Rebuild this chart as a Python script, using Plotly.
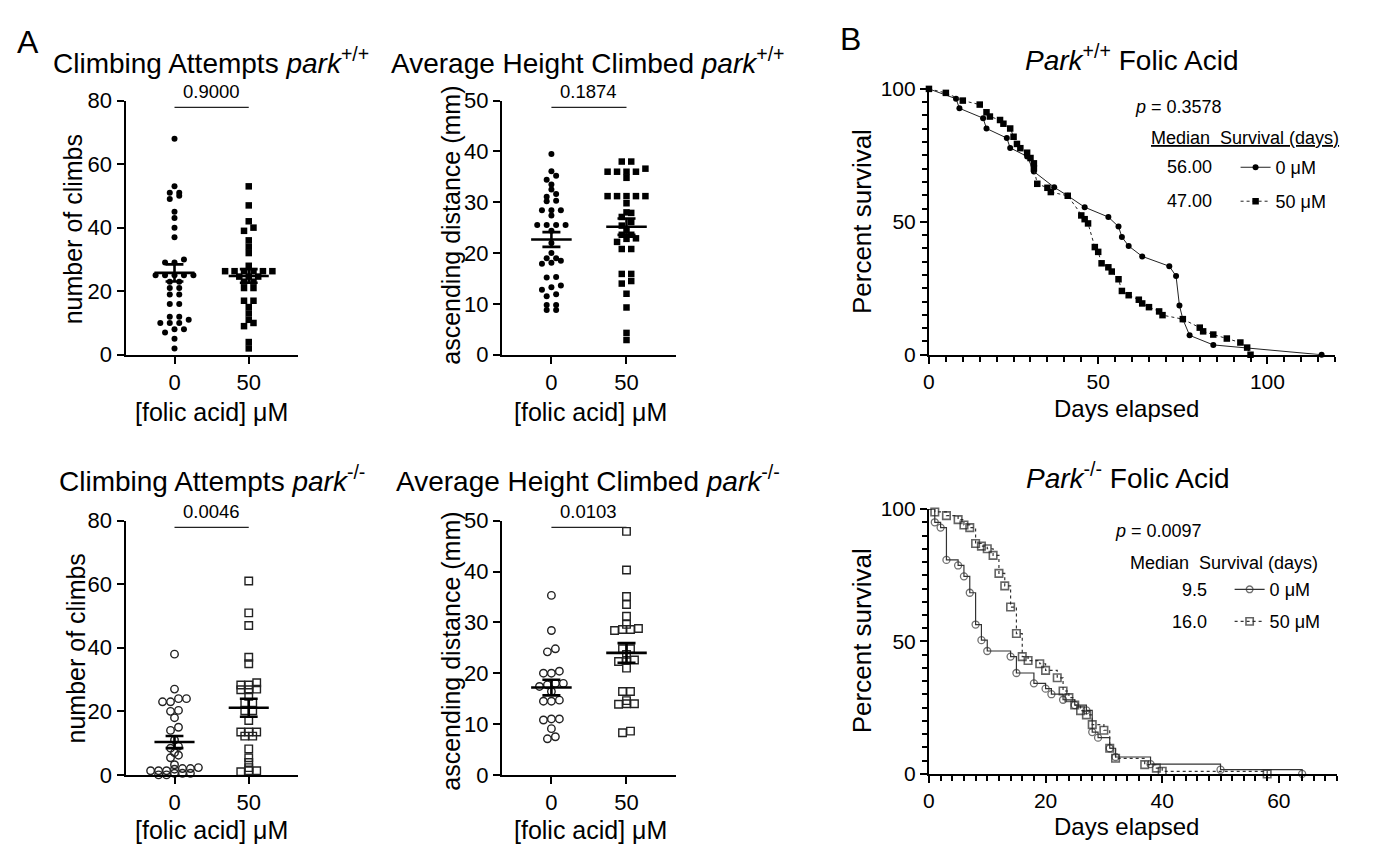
import numpy as np
import plotly.graph_objects as go

# page has an 8px body margin: make the figure fit inside the window
W, H = 1361, 842
OFF = 8
FONT = "Liberation Sans, Arial, sans-serif"

# ---------------- data ----------------
dose_labels = ["0", "50"]

climb_wt_0 = [68, 53, 51, 51, 50, 49, 45, 43, 40, 37, 30, 29, 29, 25, 25, 25, 25, 25, 23, 23,
              21, 21, 19, 19, 16, 16, 12, 12, 11, 10, 10, 10, 8, 8, 7, 5, 2]
climb_wt_50 = [53, 47, 42, 40, 39, 36, 34, 32, 28, 26.3, 26.3, 26.3, 26.3, 26.3, 26.3, 24.6, 24.6,
               24.6, 23, 23, 21, 21, 17, 17, 15, 13, 11, 10, 9, 4, 2]
height_wt_0 = [39.5, 36.1, 35.2, 34.4, 33.5, 32.5, 31.6, 31.1, 30.3, 30.2, 28.4, 28.4, 28.4, 27.4,
               25.5, 25.5, 25.5, 25.5, 24.4, 22.0, 20.0, 19.0, 19.0, 18.1, 17.9, 18.5, 15.2, 15.3,
               13.3, 12.8, 13.6, 11.5, 11.9, 8.8, 9.8, 8.8, 9.8]
height_wt_50 = [38.0, 38.0, 36.6, 36.0, 36.0, 36.0, 36.0, 34.8, 31.2, 31.2, 31.2, 31.2, 31.2, 29.8,
                28.0, 27.9, 27.1, 26.1, 25.4, 24.5, 23.6, 23.6, 22.9, 22.8, 22.2, 20.8, 20.8, 15.9,
                15.9, 14.0, 14.5, 12.0, 9.3, 4.3, 2.9]
climb_ko_0 = [38, 27, 24, 23, 23, 24, 20.3, 20, 18, 15, 14, 11, 9, 8.4, 7, 6.2, 5.4, 3.2, 2.3, 1.8,
              2, 2, 1.3, 1.3, 1.3, 0.5, 0.5, 0.5, 0, 0]
climb_ko_50 = [61, 51, 47, 37, 35, 29, 27, 28.3, 28.3, 26.8, 26.8, 24.7, 22.7, 22.7, 20.2, 20.2, 17.1,
               13.5, 13.5, 12.2, 12.2, 13.5, 8.2, 5.4, 3.9, 2.3, 1.3, 1.3, 1.0]
height_ko_0 = [35.3, 28.4, 24.8, 24.2, 20.0, 20.4, 20.0, 18.0, 17.4, 17.7, 18.0, 16.4, 14.5, 14.7,
               14.5, 11.0, 10.8, 11.0, 9.1, 7.1, 7.5]
height_ko_50 = [47.9, 40.3, 35.1, 33.5, 31.2, 29.6, 28.6, 28.4, 28.6, 28.8, 24.8, 24.8, 23.7, 22.3,
                22.5, 22.6, 21.0, 16.4, 16.4, 14.0, 14.6, 13.9, 14.0, 8.3, 8.6]
p_values = ["0.9000", "0.1874", "0.0046", "0.0103"]

surv_wt_0_days = [0, 8, 9, 16, 17, 23, 24, 29, 31, 37, 41, 46, 53, 56, 57, 59, 63, 71, 73, 74, 75, 77, 84, 116]
surv_wt_0_pct = [100, 96.3, 92.7, 89.0, 85.1, 81.5, 77.8, 74.6, 68.9, 63.0, 59.8, 55.5, 51.8, 48.2, 44.3,
                 40.9, 37.0, 33.3, 29.6, 18.5, 13.4, 7.3, 3.7, 0]
surv_wt_50_days = [0, 5, 10, 15, 17, 18, 21, 22, 24, 25, 26, 27, 29, 30, 31, 31, 32, 35, 36, 41, 45, 46,
                   47, 49, 50, 51, 53, 54, 56, 57, 59, 62, 63, 65, 68, 69, 75, 80, 81, 84, 88, 92, 94, 95]
surv_wt_50_pct = [100, 98.5, 95.6, 94.1, 91.2, 89.6, 88.3, 86.9, 85.1, 82.0, 79.3, 77.7, 76.0, 74.0, 72.0,
                  70.1, 64.3, 62.8, 61.2, 59.8, 52.4, 51.0, 49.4, 40.5, 38.7, 34.4, 32.9, 31.3, 28.4,
                  24.0, 22.4, 20.7, 19.3, 17.9, 16.3, 14.9, 13.4, 10.2, 8.8, 7.6, 6.1, 4.6, 2.7, 0]
surv_ko_0_days = [0, 1, 2, 3, 5, 6, 7, 8, 9, 10, 14, 15, 18, 20, 21, 23, 25, 27, 28, 29, 31, 32, 38, 50, 64]
surv_ko_0_pct = [100, 95, 93, 80.8, 78.7, 74.6, 68.4, 56.4, 50.5, 46.4, 44.3, 38.1, 34.2, 32.2, 30.1,
                 28, 26, 24, 15.8, 13.7, 9.7, 6.4, 3.7, 1.6, 0]
surv_ko_50_days = [0, 1, 3, 5, 6, 7, 8, 9, 10, 11, 12, 13, 14, 15, 16, 17, 19, 20, 22, 23, 24, 25, 26,
                   27, 28, 30, 31, 32, 37, 39, 40, 58]
surv_ko_50_pct = [100, 98.9, 97.5, 96, 94, 93, 87, 86, 85, 82.5, 75.7, 71, 63, 53, 44.3, 42.8, 41.6,
                  39.1, 36.3, 31.3, 28.8, 26, 23.9, 22.3, 18.6, 16.5, 9.7, 5.9, 3.5, 2.2, 1, 0]
p_surv = ["0.3578", "0.0097"]
median_wt = ["56.00", "47.00"]
median_ko = ["9.5", "16.0"]
group_names = ["0 μM", "50 μM"]


def pxx(x):
    return (x - OFF) / W


def pxy(y):
    return 1 - (y - OFF) / H


fig = go.Figure()
layout = dict(width=W, height=H, margin=dict(l=0, r=0, t=0, b=0), autosize=False,
              paper_bgcolor="white", plot_bgcolor="white",
              font=dict(family=FONT, color="black"), showlegend=True)
annotations = []


def ann(text, x, y, size, xanchor="center", yanchor="middle", angle=0, **kw):
    d = dict(text=text, x=pxx(x), y=pxy(y), xref="paper", yref="paper", showarrow=False,
             font=dict(size=size, family=FONT, color="black"), xanchor=xanchor, yanchor=yanchor,
             textangle=angle)
    d.update(kw)
    annotations.append(d)


def swarm(vals, ppu_y, ppu_x, step_px, row_px):
    vals = np.asarray(vals, float)
    order = np.argsort(vals, kind="stable")
    offs = np.zeros(len(vals))
    rows, cur = [], [order[0]]
    for i in order[1:]:
        if (vals[i] - vals[cur[0]]) * ppu_y < row_px:
            cur.append(i)
        else:
            rows.append(cur)
            cur = [i]
    rows.append(cur)
    for r in rows:
        n = len(r)
        for j, idx in enumerate(r):
            offs[idx] = (j - (n - 1) / 2) * step_px / ppu_x
    return offs


axline = dict(showline=True, linecolor="black", linewidth=2, ticks="outside", tickcolor="black",
              tickwidth=2, showgrid=False, zeroline=False)

scatter_panels = [
    # (suffix, xpx, ypx, ymax, dtick, data0, data50, filled, pval)
    ("", (120, 293), (91, 353), 80, 20, climb_wt_0, climb_wt_50, True, p_values[0]),
    ("2", (498, 673), (91, 353), 50, 10, height_wt_0, height_wt_50, True, p_values[1]),
    ("3", (120, 293), (524, 786), 80, 20, climb_ko_0, climb_ko_50, False, p_values[2]),
    ("4", (498, 673), (524, 786), 50, 10, height_ko_0, height_ko_50, False, p_values[3]),
]

XR = (-0.66, 1.66)
for suf, (x0, x1), (y0, y1), ymax, dt, d0, d50, filled, pv in scatter_panels:
    layout["xaxis" + suf] = dict(domain=[pxx(x0), pxx(x1)], range=list(XR), anchor="y" + suf,
                                 tickvals=[0, 1], ticktext=dose_labels, ticklen=7,
                                 tickfont=dict(size=22, family=FONT, color="black"), **axline)
    layout["yaxis" + suf] = dict(domain=[pxy(y1), pxy(y0)], range=[0, ymax], anchor="x" + suf,
                                 dtick=dt, ticklen=7,
                                 tickfont=dict(size=22, family=FONT, color="black"), **axline)
    ppu_x = (x1 - x0) / (XR[1] - XR[0])
    ppu_y = (y1 - y0) / ymax
    for ci, (vals, sym) in enumerate([(d0, "circle"), (d50, "square")]):
        if filled:
            offs = swarm(vals, ppu_y, ppu_x, 9.5, 4.5)
            mk = dict(symbol=sym, size=6 if sym == "circle" else 6.5, color="black")
        else:
            offs = swarm(vals, ppu_y, ppu_x, 8.0, 3.6)
            mk = dict(symbol=sym + "-open", size=7.5, color="#222",
                      line=dict(width=1.4, color="#222"))
        fig.add_trace(go.Scatter(x=ci + offs, y=vals, mode="markers", marker=mk,
                                 xaxis="x" + suf, yaxis="y" + suf, showlegend=False,
                                 cliponaxis=False, hoverinfo="skip"))
        arr = np.asarray(vals, float)
        m = arr.mean()
        sem = arr.std(ddof=1) / np.sqrt(len(arr))
        hw, cw = 0.27, 0.12
        xs = [ci - hw, ci + hw, None, ci, ci, None, ci - cw, ci + cw, None, ci - cw, ci + cw]
        ys = [m, m, None, m - sem, m + sem, None, m - sem, m - sem, None, m + sem, m + sem]
        fig.add_trace(go.Scatter(x=xs, y=ys, mode="lines", line=dict(color="black", width=2.6),
                                 xaxis="x" + suf, yaxis="y" + suf, showlegend=False,
                                 hoverinfo="skip"))
    # significance bar, 7 px under the top of the axis; p text 9 px above it
    bar_v = ymax - 7 / ppu_y
    fig.add_trace(go.Scatter(x=[0, 1], y=[bar_v, bar_v], mode="lines",
                             line=dict(color="#222", width=1.2), xaxis="x" + suf, yaxis="y" + suf,
                             showlegend=False, hoverinfo="skip"))
    ann(pv, x0 + (0.5 - XR[0]) * ppu_x, y0 - 9, 18.5)

# ---------------- survival panels ----------------
surv_panels = [
    ("5", (927, 1335), (79, 353), 120, 50, 5),
    ("6", (927, 1337), (512, 785), 70, 20, 2),
]
for suf, (x0, x1), (y0, y1), xmax, xdt, xminor in surv_panels:
    layout["xaxis" + suf] = dict(domain=[pxx(x0), pxx(x1)], range=[0, xmax], anchor="y" + suf,
                                 dtick=xdt, ticklen=7,
                                 minor=dict(dtick=xminor, ticklen=5, tickwidth=2, tickcolor="black",
                                            ticks="outside", showgrid=False),
                                 tickfont=dict(size=21, family=FONT, color="black"), **axline)
    layout["yaxis" + suf] = dict(domain=[pxy(y1), pxy(y0)], range=[0, 100], anchor="x" + suf,
                                 dtick=50, ticklen=7,
                                 minor=dict(dtick=5, ticklen=5, tickwidth=2, tickcolor="black",
                                            ticks="outside", showgrid=False),
                                 tickfont=dict(size=21, family=FONT, color="black"), **axline)

# top: connected points
fig.add_trace(go.Scatter(x=surv_wt_0_days, y=surv_wt_0_pct, mode="lines+markers", name=group_names[0],
                         line=dict(color="#222", width=1),
                         marker=dict(symbol="circle", size=6, color="black"),
                         xaxis="x5", yaxis="y5", legend="legend",
                         cliponaxis=False, hoverinfo="skip"))
fig.add_trace(go.Scatter(x=surv_wt_50_days, y=surv_wt_50_pct, mode="lines+markers", name=group_names[1],
                         line=dict(color="#222", width=1, dash="dot"),
                         marker=dict(symbol="square", size=6.5, color="black"),
                         xaxis="x5", yaxis="y5", legend="legend2",
                         cliponaxis=False, hoverinfo="skip"))
# bottom: step curves
sizes0 = [0] + [7] * (len(surv_ko_0_days) - 1)
sizes50 = [0] + [7.5] * (len(surv_ko_50_days) - 1)
fig.add_trace(go.Scatter(x=surv_ko_0_days, y=surv_ko_0_pct, mode="lines+markers", name=group_names[0],
                         line=dict(color="#333", width=1.2, shape="hv"),
                         marker=dict(symbol="circle-open", size=sizes0, color="#333",
                                     line=dict(width=1.3)),
                         xaxis="x6", yaxis="y6", legend="legend3",
                         cliponaxis=False, hoverinfo="skip"))
fig.add_trace(go.Scatter(x=surv_ko_50_days, y=surv_ko_50_pct, mode="lines+markers", name=group_names[1],
                         line=dict(color="#333", width=1.2, shape="hv", dash="dot"),
                         marker=dict(symbol="square-open", size=sizes50, color="#222",
                                     line=dict(width=1.6)),
                         xaxis="x6", yaxis="y6", legend="legend4",
                         cliponaxis=False, hoverinfo="skip"))

leg_common = dict(xanchor="left", yanchor="top", bgcolor="rgba(0,0,0,0)", borderwidth=0,
                  font=dict(size=18, family=FONT, color="black"), itemclick=False)
# legend rows centred on the median-survival rows (item centre ~19 px below legend top)
layout["legend"] = dict(x=pxx(1235), y=pxy(160 - 19), **leg_common)
layout["legend2"] = dict(x=pxx(1235), y=pxy(195 - 19), **leg_common)
layout["legend3"] = dict(x=pxx(1229), y=pxy(595 - 19), **leg_common)
layout["legend4"] = dict(x=pxx(1229), y=pxy(628 - 19), **leg_common)

# ---------------- texts ----------------
ann("A", 9, 31, 32, xanchor="left")
ann("B", 836, 28, 32, xanchor="left")
ann("Climbing Attempts <i>park</i><sup>+/+</sup>", 206, 50, 28)
ann("Average Height Climbed <i>park</i><sup>+/+</sup>", 385, 50, 28, xanchor="left")
ann("Climbing Attempts <i>park</i><sup>-/-</sup>", 207, 481, 28)
ann("Average Height Climbed <i>park</i><sup>-/-</sup>", 390, 481, 28, xanchor="left")
ann("<i>Park</i><sup>+/+</sup> Folic Acid", 1131, 47, 28)
ann("<i>Park</i><sup>-/-</sup> Folic Acid", 1127, 478, 28)

ann("number of climbs", 67, 224, 25, angle=-90)
ann("ascending distance (mm)", 447, 220, 25, angle=-90)
ann("number of climbs", 70, 656, 25, angle=-90)
ann("ascending distance (mm)", 447, 659, 25, angle=-90)
ann("Percent survival", 860, 216, 26, angle=-90)
ann("Percent survival", 860, 648, 26, angle=-90)
for yc in (412, 843):
    ann("[folic acid] μM", 206, yc, 25)
    ann("[folic acid] μM", 587, yc, 25)
ann("Days elapsed", 1125, 408, 24)
ann("Days elapsed", 1125, 839, 24)

ann("<i>p</i> = " + p_surv[0], 1132, 98, 18, xanchor="left")
ann("<u>Median  Survival (days)</u>", 1148, 130, 18, xanchor="left")
ann(median_wt[0], 1213, 160, 18, xanchor="right")
ann(median_wt[1], 1213, 195, 18, xanchor="right")
ann("<i>p</i> = " + p_surv[1], 1112, 535, 18, xanchor="left")
ann("Median  Survival (days)", 1127, 568, 18, xanchor="left")
ann(median_ko[0], 1208, 595, 18, xanchor="right")
ann(median_ko[1], 1208, 628, 18, xanchor="right")

layout["annotations"] = annotations
fig.update_layout(**layout)
fig.write_html("out.html")
